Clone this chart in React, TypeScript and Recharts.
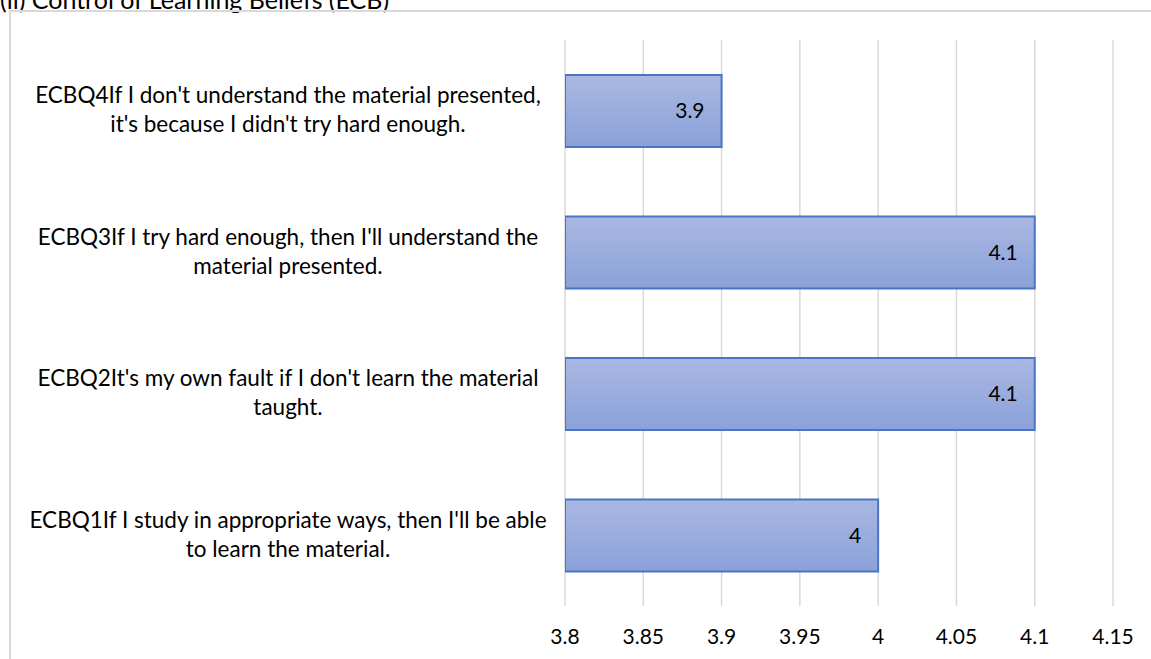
import React from 'react'
import { BarChart, Bar, XAxis, YAxis, CartesianGrid, LabelList } from 'recharts'

const categories = [
  "ECBQ4If I don't understand the material presented, it's because I didn't try hard enough.",
  "ECBQ3If I try hard enough, then I'll understand the material presented.",
  "ECBQ2It's my own fault if I don't learn the material taught.",
  "ECBQ1If I study in appropriate ways, then I'll be able to learn the material.",
]
const values = [3.9, 4.1, 4.1, 4.0]
const xTicks = [3.8, 3.85, 3.9, 3.95, 4, 4.05, 4.1, 4.15]

const title = '(ii) Control of Learning Beliefs (ECB)'

const data = categories.map((name, i) => ({ name, value: values[i] }))

const FONT = 'Lato, "Open Sans", sans-serif'

function wrap(text: string, max = 54) {
  const words = text.split(' ')
  const lines: string[] = []
  let cur = ''
  for (const w of words) {
    const next = cur ? cur + ' ' + w : w
    if (next.length > max && cur) {
      lines.push(cur)
      cur = w
    } else {
      cur = next
    }
  }
  if (cur) lines.push(cur)
  return lines
}

function CategoryTick(props: any) {
  const { y, payload } = props
  const lines = wrap(String(payload.value))
  const lh = 29
  const startY = y - 1 - ((lines.length - 1) * lh) / 2
  return (
    <text
      x={288}
      y={startY}
      textAnchor="middle"
      fontFamily={FONT}
      fontSize={22.5}
      fill="#000"
    >
      {lines.map((l, i) => (
        <tspan key={i} x={288} y={startY + i * lh} dy="0.35em">
          {l}
        </tspan>
      ))}
    </text>
  )
}

export default function App() {
  return (
    <div style={{ position: 'absolute', left: 0, top: 0, width: 1151, height: 659, overflow: 'hidden', background: '#fff' }}>
      <div
        style={{
          position: 'absolute',
          left: 0,
          top: -13,
          fontFamily: FONT,
          fontSize: 25,
          lineHeight: '25px',
          color: '#000',
          whiteSpace: 'nowrap',
        }}
      >
        {title}
      </div>
      <div
        style={{
          position: 'absolute',
          left: 9,
          top: 10,
          width: 1200,
          height: 700,
          border: '2px solid #d9d9d9',
        }}
      />
      <div style={{ position: 'absolute', left: 0, top: 0 }}>
        <BarChart
          width={1151}
          height={659}
          data={data}
          layout="vertical"
          margin={{ top: 40, right: 38, bottom: 0, left: 0 }}
          barSize={72}
        >
          <defs>
            <linearGradient id="barFill" x1="0" y1="0" x2="0" y2="1">
              <stop offset="0%" stopColor="#aab8e2" />
              <stop offset="100%" stopColor="#8aa1d9" />
            </linearGradient>
          </defs>
          <CartesianGrid horizontal={false} stroke="#d9d9d9" strokeWidth={1.5} />
          <XAxis
            type="number"
            domain={[3.8, 4.15]}
            ticks={xTicks}
            allowDataOverflow
            axisLine={false}
            tickLine={false}
            height={53}
            tick={{ fontFamily: FONT, fontSize: 21, fill: '#000' }}
            tickMargin={17}
            interval={0}
          />
          <YAxis
            type="category"
            dataKey="name"
            width={565}
            axisLine={false}
            tickLine={false}
            tick={<CategoryTick />}
            interval={0}
          />
          <Bar
            dataKey="value"
            fill="url(#barFill)"
            stroke="#4a75c4"
            strokeWidth={2}
            isAnimationActive={false}
          >
            <LabelList
              dataKey="value"
              position="insideRight"
              offset={17}
              fill="#000"
              fontFamily={FONT}
              fontSize={21}
            />
          </Bar>
        </BarChart>
      </div>
    </div>
  )
}
